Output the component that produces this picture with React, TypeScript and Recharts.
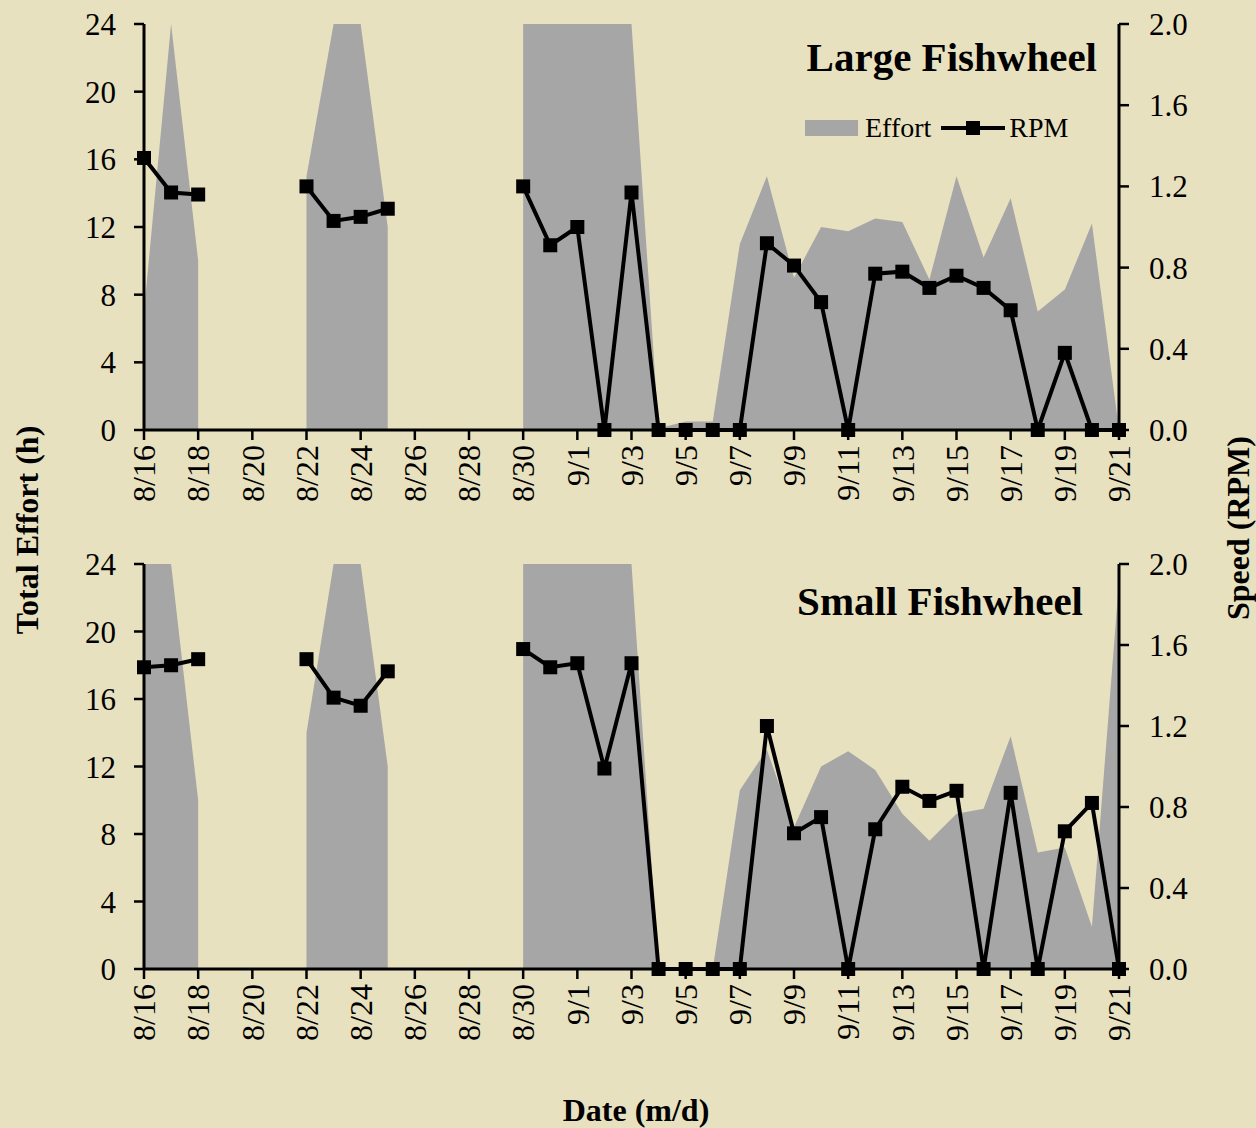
import React from 'react';
import { ComposedChart, Area, Line, XAxis, YAxis, Legend } from 'recharts';

const dates = [
  '8/16', '8/17', '8/18', '8/19', '8/20', '8/21', '8/22', '8/23', '8/24', '8/25',
  '8/26', '8/27', '8/28', '8/29', '8/30', '8/31', '9/1', '9/2', '9/3', '9/4',
  '9/5', '9/6', '9/7', '9/8', '9/9', '9/10', '9/11', '9/12', '9/13', '9/14',
  '9/15', '9/16', '9/17', '9/18', '9/19', '9/20', '9/21',
];

// Total effort (h); null = no fishing that day
const largeEffort = [
  7, 24, 10, null, null, null, 15, 24, 24, 12,
  null, null, null, null, 24, 24, 24, 24, 24, 0.1,
  0.5, 0.5, 11, 15, 9, 12, 11.75, 12.5, 12.3, 8.9,
  15, 10.2, 13.7, 7, 8.3, 12.2, 0,
];
const largeRpm = [
  1.34, 1.17, 1.16, null, null, null, 1.2, 1.03, 1.05, 1.09,
  null, null, null, null, 1.2, 0.91, 1.0, 0, 1.17, 0,
  0, 0, 0, 0.92, 0.81, 0.63, 0, 0.77, 0.78, 0.7,
  0.76, 0.7, 0.59, 0, 0.38, 0, 0,
];

const smallEffort = [
  24, 24, 10, null, null, null, 14, 24, 24, 12,
  null, null, null, null, 24, 24, 24, 24, 24, 0,
  0, 0, 10.6, 13, 8.4, 12, 12.9, 11.8, 9.2, 7.6,
  9.2, 9.5, 13.8, 6.9, 7.2, 2.5, 23,
];
const smallRpm = [
  1.49, 1.5, 1.53, null, null, null, 1.53, 1.34, 1.3, 1.47,
  null, null, null, null, 1.58, 1.49, 1.51, 0.99, 1.51, 0,
  0, 0, 0, 1.2, 0.67, 0.75, 0, 0.69, 0.9, 0.83,
  0.88, 0, 0.87, 0, 0.68, 0.82, 0,
];

const effortTicks = [0, 4, 8, 12, 16, 20, 24];
const rpmTicks = [0, 0.4, 0.8, 1.2, 1.6, 2.0];

const BG = '#e8e1bf';
const GRAY = '#a6a6a6';
const FONT = '"Liberation Serif", "Times New Roman", serif';

function DateTick({ x, y, payload }: any) {
  return (
    <g transform={`translate(${x},${y + 3}) rotate(-90)`}>
      <text textAnchor="end" dy="0.35em" fontSize={32} fontFamily={FONT} fill="#000">
        {payload.value}
      </text>
    </g>
  );
}

function SquareDot({ cx, cy, value, index }: any) {
  if (value == null || cx == null || cy == null) return <g key={`d${index}`} />;
  return <rect key={`d${index}`} x={cx - 7} y={cy - 7} width={14} height={14} fill="#000" />;
}

function LegendBox({ payload }: any) {
  return (
    <div style={{ display: 'flex', alignItems: 'center', fontFamily: FONT, fontSize: 28, color: '#000' }}>
      {(payload || []).map((entry: any) => (
        <div key={entry.value} style={{ display: 'flex', alignItems: 'center', marginRight: 10 }}>
          {entry.dataKey === 'effort' ? (
            <div style={{ width: 53, height: 16, background: GRAY, marginRight: 7 }} />
          ) : (
            <svg width={64} height={16} style={{ marginRight: 4 }}>
              <line x1={0} y1={8} x2={64} y2={8} stroke="#000" strokeWidth={4} />
              <rect x={25} y={1} width={14} height={14} fill="#000" />
            </svg>
          )}
          <span>{entry.value}</span>
        </div>
      ))}
    </div>
  );
}

interface PanelProps {
  effort: (number | null)[];
  rpm: (number | null)[];
  top: number;
  marginTop: number;
  showLegend?: boolean;
}

function Panel({ effort, rpm, top, marginTop, showLegend }: PanelProps) {
  const data = dates.map((date, i) => ({ date, effort: effort[i], rpm: rpm[i] }));
  const tickStyle = { fontSize: 31, fontFamily: FONT, fill: '#000' };
  return (
    <div style={{ position: 'absolute', left: 0, top }}>
      <ComposedChart
        width={1256}
        height={540}
        data={data}
        margin={{ top: marginTop, right: 0, bottom: 0, left: 0 }}
      >
        <XAxis
          dataKey="date"
          scale="point"
          padding={{ left: 0, right: 0 }}
          interval={1}
          height={110}
          tick={<DateTick />}
          tickSize={10}
          stroke="#000"
          axisLine={{ stroke: '#000', strokeWidth: 3 }}
          tickLine={{ stroke: '#000', strokeWidth: 2.5 }}
        />
        <YAxis
          yAxisId="left"
          width={144}
          domain={[0, 24]}
          ticks={effortTicks}
          tick={tickStyle}
          tickSize={10}
          tickMargin={18}
          axisLine={{ stroke: '#000', strokeWidth: 3 }}
          tickLine={{ stroke: '#000', strokeWidth: 2.5 }}
        />
        <YAxis
          yAxisId="right"
          orientation="right"
          width={137}
          domain={[0, 2]}
          ticks={rpmTicks}
          tickFormatter={(v: number) => v.toFixed(1)}
          tick={{ ...tickStyle, textAnchor: 'start' }}
          tickSize={10}
          tickMargin={20}
          axisLine={{ stroke: '#000', strokeWidth: 3 }}
          tickLine={{ stroke: '#000', strokeWidth: 2.5 }}
        />
        {showLegend && (
          <Legend
            layout="horizontal"
            verticalAlign="middle"
            align="center"
            content={<LegendBox />}
            wrapperStyle={{ left: 805, top: 112, width: 'auto' }}
          />
        )}
        <Area
          yAxisId="left"
          type="linear"
          dataKey="effort"
          name="Effort"
          fill={GRAY}
          fillOpacity={1}
          stroke="none"
          isAnimationActive={false}
        />
        <Line
          yAxisId="right"
          type="linear"
          dataKey="rpm"
          name="RPM"
          stroke="#000"
          strokeWidth={4}
          dot={<SquareDot />}
          activeDot={false}
          isAnimationActive={false}
        />
      </ComposedChart>
    </div>
  );
}

const titleStyle: React.CSSProperties = {
  position: 'absolute',
  fontFamily: FONT,
  fontWeight: 'bold',
  fontSize: 41,
  lineHeight: '41px',
  whiteSpace: 'nowrap',
  color: '#000',
};

const axisTitleStyle: React.CSSProperties = {
  position: 'absolute',
  fontFamily: FONT,
  fontWeight: 'bold',
  fontSize: 32,
  lineHeight: '32px',
  whiteSpace: 'nowrap',
  color: '#000',
};

export default function App() {
  return (
    <div
      style={{
        position: 'absolute',
        left: 0,
        top: 0,
        width: 1256,
        height: 1128,
        background: BG,
        overflow: 'hidden',
      }}
    >
      <Panel effort={largeEffort} rpm={largeRpm} top={0} marginTop={24} showLegend />
      <Panel effort={smallEffort} rpm={smallRpm} top={539} marginTop={25} />

      <div style={{ ...titleStyle, right: 159, top: 37 }}>Large Fishwheel</div>
      <div style={{ ...titleStyle, right: 173, top: 581 }}>Small Fishwheel</div>

      <div
        style={{
          ...axisTitleStyle,
          left: 27,
          top: 530,
          transform: 'translate(-50%, -50%) rotate(-90deg)',
        }}
      >
        Total Effort (h)
      </div>
      <div
        style={{
          ...axisTitleStyle,
          left: 1238,
          top: 528,
          transform: 'translate(-50%, -50%) rotate(-90deg)',
        }}
      >
        Speed (RPM)
      </div>
      <div
        style={{
          ...axisTitleStyle,
          left: 636,
          top: 1110,
          transform: 'translate(-50%, -50%)',
        }}
      >
        Date (m/d)
      </div>
    </div>
  );
}
